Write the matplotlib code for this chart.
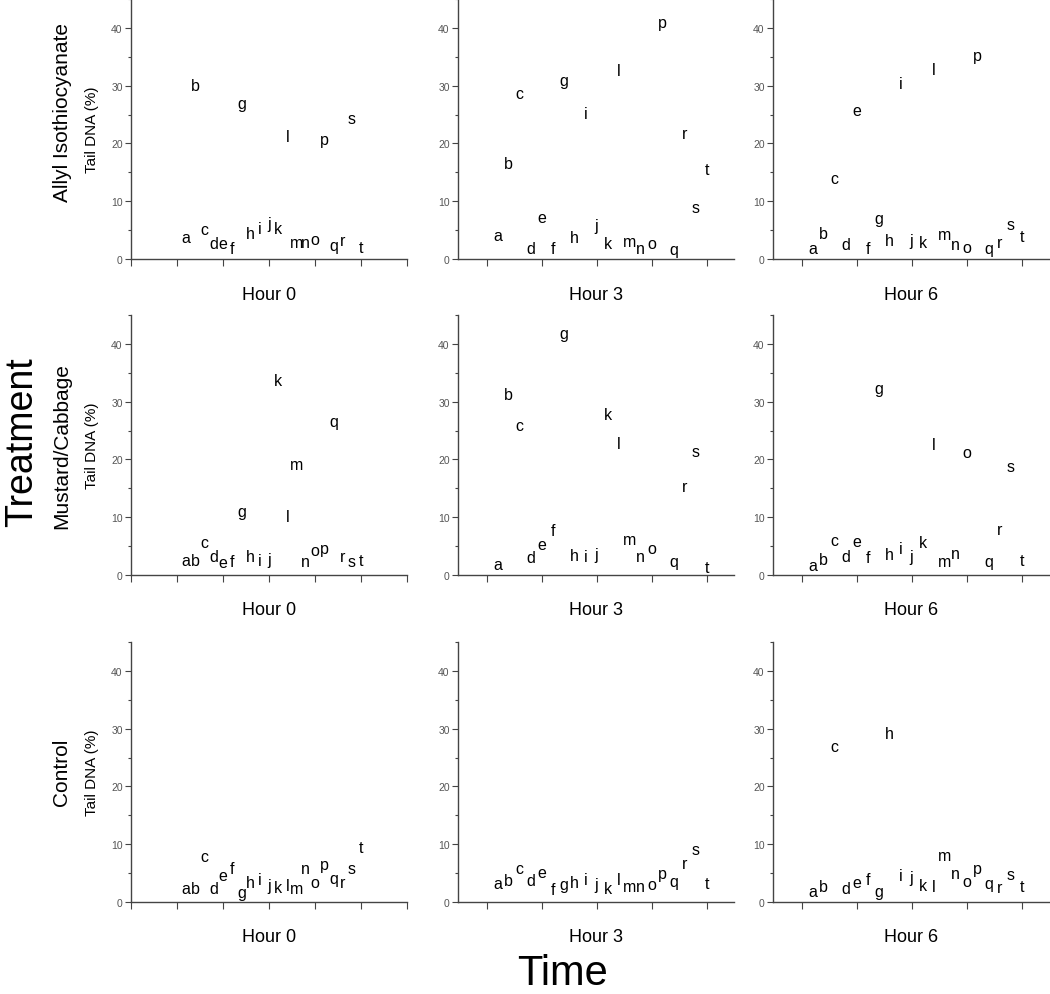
import matplotlib.pyplot as plt
import numpy as np

plt.rcParams["font.family"] = ["Liberation Sans", "DejaVu Sans"]

letters = list("abcdefghijklmnopqrst")
x = np.arange(1, 21)
treatments = ["Allyl Isothiocyanate", "Mustard/Cabbage", "Control"]
hours = ["Hour 0", "Hour 3", "Hour 6"]
nan = np.nan

# Tail DNA (%) per sample a..t
allyl_h0 = [3.6, 30.0, 5.0, 2.7, 2.7, 1.8, 26.9, 4.3, 5.3, 6.0,
            5.3, 21.2, 2.8, 2.8, 3.3, 20.7, 2.2, 3.1, 24.2, 2.0]
allyl_h3 = [4.0, 16.4, 28.5, 1.7, 7.1, 1.7, 30.9, 3.7, 25.2, 5.8,
            2.6, 32.5, 2.9, 1.7, 2.7, 40.9, 1.6, 21.6, 8.9, 15.5]
allyl_h6 = [1.7, 4.3, 13.8, 2.4, 25.7, 1.8, 6.9, 3.2, 30.4, 3.2,
            2.8, 32.7, 4.1, 2.4, 2.0, 35.1, 1.8, 2.8, 5.9, 3.9]
mustard_h0 = [2.5, 2.5, 5.5, 3.1, 2.1, 2.2, 11.0, 3.1, 2.5, 2.7,
              33.6, 10.1, 19.1, 2.2, 4.1, 4.5, 26.5, 3.2, 2.2, 2.4]
mustard_h3 = [1.7, 31.1, 25.8, 2.9, 5.3, 7.7, 41.7, 3.3, 3.1, 3.5,
              27.7, 22.7, 6.1, 3.2, 4.6, nan, 2.3, 15.2, 21.4, 1.3]
mustard_h6 = [1.5, 2.7, 5.9, 3.1, 5.8, 2.9, 32.2, 3.5, 4.5, 3.1,
              5.5, 22.5, 2.2, 3.6, 21.1, nan, 2.3, 7.8, 18.7, 2.5]
control_h0 = [2.3, 2.2, 7.8, 2.2, 4.6, 5.8, 1.6, 3.3, 3.9, 2.8,
              2.4, 2.8, 2.3, 5.8, 3.3, 6.5, 4.0, 3.3, 5.7, 9.3]
control_h3 = [3.1, 3.6, 5.7, 3.6, 5.1, 2.1, 2.9, 3.3, 3.8, 2.9,
              2.2, 3.8, 2.6, 2.6, 3.0, 4.9, 3.5, 6.6, 9.1, 3.2]
control_h6 = [1.7, 2.6, 26.8, 2.2, 3.3, 3.9, 1.7, 29.1, 4.5, 4.2,
              2.8, 2.6, 8.0, 4.9, 3.5, 5.8, 3.1, 2.4, 4.7, 2.6]

data = [[allyl_h0, allyl_h3, allyl_h6],
        [mustard_h0, mustard_h3, mustard_h6],
        [control_h0, control_h3, control_h6]]

W, H = 1050, 995
fig = plt.figure(figsize=(W / 100, H / 100), dpi=100)

col_left = [131, 458, 773]
row_bottom = [260, 576, 903]
row_label_y = [112, 446, 772]
ax_w, ax_h = 276, 260
xlims = [(-5, 25), (-2.6, 22.5), (-2.6, 22.5)]
xticks = [np.arange(-5, 26, 5), np.arange(0, 21, 5), np.arange(0, 21, 5)]

fs_letter = 11.5
for r in range(3):
    for c in range(3):
        ax = fig.add_axes([col_left[c] / W, 1 - row_bottom[r] / H, ax_w / W, ax_h / H])
        vals = data[r][c]
        for xi, yi, ch in zip(x, vals, letters):
            if np.isnan(yi):
                continue
            ax.annotate(ch, (xi, yi), xytext=(0, -0.26 * fs_letter),
                        textcoords="offset points", ha="center", va="baseline",
                        fontsize=fs_letter, color="black")
        ax.set_xlim(*xlims[c])
        ax.set_ylim(0, 45)
        ax.set_xticks(xticks[c])
        ax.set_xticklabels([])
        ax.set_yticks(np.arange(0, 41, 10))
        ax.set_yticks(np.arange(5, 46, 10), minor=True)
        for s in ["top", "right"]:
            ax.spines[s].set_visible(False)
        for s in ["left", "bottom"]:
            ax.spines[s].set_color("#444444")
            ax.spines[s].set_linewidth(1.0)
        ax.tick_params(axis="y", which="major", direction="out", length=4,
                       width=0.8, color="#444444", labelsize=7.5,
                       labelcolor="#555555", pad=2)
        ax.tick_params(axis="y", which="minor", direction="out", length=2.5,
                       width=0.8, color="#444444")
        ax.tick_params(axis="x", which="major", direction="out", length=5,
                       width=0.8, color="#444444")
        ax.set_xlabel(hours[c], fontsize=13)
        ax.xaxis.set_label_coords(0.5, -35 / ax_h)
        ax.xaxis.label.set_va("center")
        if c == 0:
            ax.set_ylabel("Tail DNA (%)", fontsize=11)
            ax.yaxis.set_label_coords(-39 / ax_w, 0.5)
            ax.yaxis.label.set_va("center")
            fig.text(62 / W, 1 - row_label_y[r] / H, treatments[r],
                     rotation=90, ha="center", va="center", fontsize=15)

fig.text(22 / W, 1 - 442 / H, "Treatment", rotation=90, ha="center",
         va="center", fontsize=27)
fig.text(562 / W, 1 - 985 / H, "Time", ha="center", va="baseline", fontsize=30)

fig.savefig("out.png", dpi=100)
